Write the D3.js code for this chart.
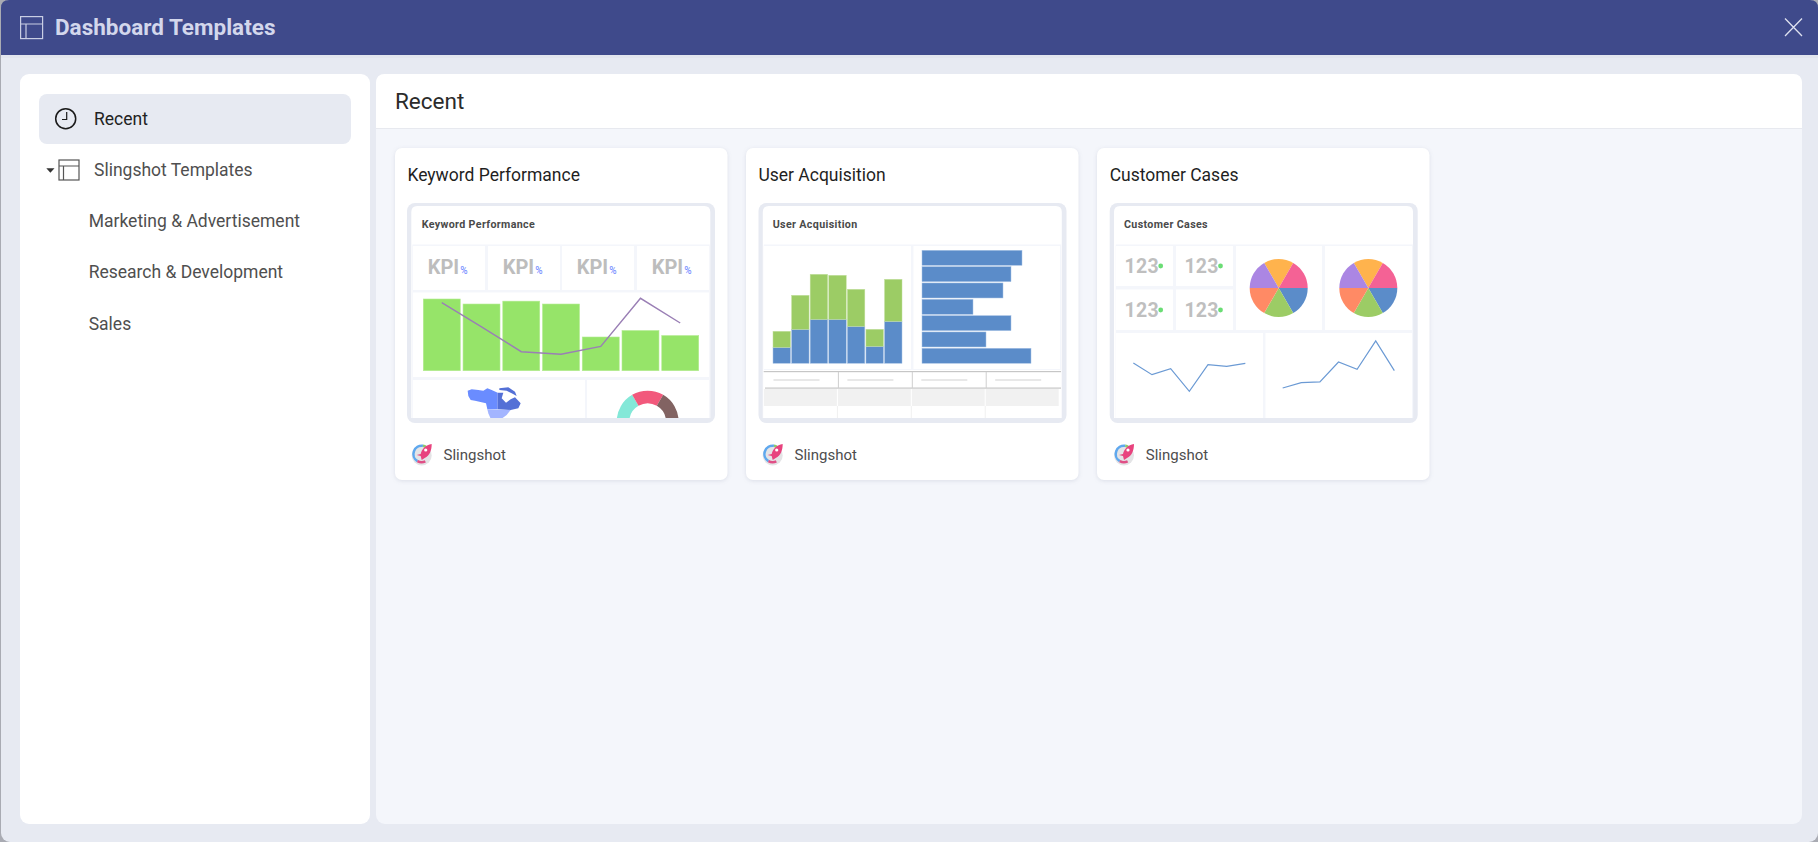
<!DOCTYPE html>
<html><head><meta charset="utf-8">
<script src="https://cdn.jsdelivr.net/npm/d3@7"></script>
<style>
html,body{margin:0;padding:0;background:#a9abb3;overflow:hidden}
svg{display:block;font-family:Roboto,sans-serif}
.card{filter:drop-shadow(0 1px 2px rgba(60,70,110,.13))}
</style></head><body>
<svg id="c" width="1818" height="842"></svg>
<script>
// ---- text
const windowTitle = "Dashboard Templates";
const panelTitle = "Recent";
const navItems = ["Recent","Slingshot Templates","Marketing & Advertisement","Research & Development","Sales"];
const cardTitles = ["Keyword Performance","User Acquisition","Customer Cases"];
const publisher = "Slingshot";
const kpiLabel = "KPI", kpiUnit = "%", numberLabel = "123";
// ---- Keyword Performance thumbnail
const monthIdx = ["1","2","3","4","5","6","7"];
const keywordBars = [100,93,97,93,47,56,49];
const keywordLine = [95,61,26.5,23,34,101,66.5];
const donutValues = [1,1,1];
// ---- User Acquisition thumbnail
const stackBlue  = [16,34,44,44,37,17,42];
const stackGreen = [16,34,45,44,37,17,42];
const hbarValues = [100,89,81,51,89,64,109];
const tableCols = ["a","b","c","d"];
// ---- Customer Cases thumbnail
const pieValues = [1,1,1,1,1,1];
const pieColors = ["#ffb34d","#f46295","#5b8cc9","#9ccc65","#ff8a65","#ab86e3"];
const lineA = [43.7,32,38,15.3,42,40.3,43.3];
const lineB = [18.7,24,24.7,44.7,37.3,65.7,36];

const svg = d3.select("#c");
const defs = svg.append("defs");
const rr = (g,x,y,w,h,r,f)=>g.append("rect").attr("x",x).attr("y",y).attr("width",w).attr("height",h).attr("rx",r).attr("fill",f);
const txt = (g,x,y,s,size,fill,weight=400)=>g.append("text").attr("x",x).attr("y",y).attr("font-size",size).attr("fill",fill).attr("font-weight",weight).text(s);
const rdTop=(x,y,w,h,r)=>`M${x},${y+h}V${y+r}Q${x},${y} ${x+r},${y}H${x+w-r}Q${x+w},${y} ${x+w},${y+r}V${y+h}Z`;

// window
rr(svg,1,0,1817,842,9,"#e7eaf2");
svg.append("path").attr("d",rdTop(1,0,1817,55,8)).attr("fill","#3f4a8b");
rr(svg,1,55,1817,3,0,"#e2e5ee");
const hi = svg.append("g").attr("fill","none").attr("stroke","#c9cee4").attr("stroke-width",1.2);
hi.append("rect").attr("x",20.6).attr("y",16.6).attr("width",22).attr("height",22);
hi.append("path").attr("d","M20.6,24H42.6M26,24V38.6");
txt(svg,55,35,windowTitle,22.5,"#d3d7ec",700);
svg.append("path").attr("d","M1785,18.5L1802,36M1802,18.5L1785,36").attr("stroke","#dfe2f0").attr("stroke-width",1.3).attr("fill","none");

// sidebar
rr(svg,20,74,350,750,9,"#ffffff");
rr(svg,39,94,312,50,8,"#e7eaf2");
const ck = svg.append("g");
ck.append("circle").attr("cx",65.7).attr("cy",118.7).attr("r",10).attr("fill","none").attr("stroke","#1a1a1a").attr("stroke-width",1.5);
ck.append("path").attr("d","M66.7,112V119.5H62").attr("fill","none").attr("stroke","#1a1a1a").attr("stroke-width",1.2);
const navPos = [[94,125,"#222"],[94,176,"#4f4f4f"],[88.7,227,"#4f4f4f"],[88.7,277.5,"#4f4f4f"],[88.7,330,"#4f4f4f"]];
navItems.forEach((t,i)=>txt(svg,navPos[i][0],navPos[i][1],t,17.5,navPos[i][2]));
svg.append("path").attr("d","M46.3,168.3H54.5L50.4,172.8Z").attr("fill","#333");
const si = svg.append("g").attr("fill","none").attr("stroke","#555").attr("stroke-width",1.2);
si.append("rect").attr("x",59).attr("y",160).attr("width",20).attr("height",20);
si.append("path").attr("d","M59,166H79M63.5,166V180");

// main panel
rr(svg,376,74,1426,750,9,"#f4f6fb");
svg.append("path").attr("d",rdTop(376,74,1426,54,9)).attr("fill","#fff");
svg.append("rect").attr("x",376).attr("y",128).attr("width",1426).attr("height",1).attr("fill","#e7e9ef");
txt(svg,395,109,panelTitle,22.5,"#2b2b2b",400);

// cards
const cardX=[395,746,1097];
const outerX=[407,758.5,1109.7];
const textX=[407.7,758.7,1110];
const gridX=[412.3,763.7,1115.7];
function logo(g,x,y){
  const a=d3.arc();
  g.append("circle").attr("cx",x).attr("cy",y+1.5).attr("r",10).attr("fill","#e4e4e6");
  g.append("path").attr("transform",`translate(${x},${y})`).attr("fill","#5fa8ee")
    .attr("d",a({innerRadius:7,outerRadius:9.5,startAngle:-2.6,endAngle:.15}));
  g.append("path").attr("transform",`translate(${x},${y})`).attr("fill","#8ccb6e")
    .attr("d",a({innerRadius:7,outerRadius:9.5,startAngle:.15,endAngle:.6}));
  g.append("path").attr("transform",`translate(${x},${y})`).attr("fill","#e04f86")
    .attr("d",a({innerRadius:7,outerRadius:9.5,startAngle:-3.6,endAngle:-2.6}));
  g.append("path").attr("fill","#e8437e")
    .attr("d",`M${x+10},${y-10}C${x+4},${y-9} ${x},${y-5} ${x-1},${y}L${x-5},${y+1}L${x-1},${y+2}L${x},${y+6}L${x+3},${y+4}C${x+8},${y+2} ${x+10},${y-4} ${x+10},${y-10}Z`);
  g.append("circle").attr("cx",x+4).attr("cy",y-4).attr("r",1.6).attr("fill","#fff");
}
const cards = svg.selectAll("g.card").data(cardTitles).join("g").attr("class","card");
cards.each(function(t,i){
  rr(d3.select(this),cardX[i],148,332.5,332,7,"#fff");
});
cardTitles.forEach((t,i)=>{
  const o=outerX[i], gx=gridX[i], tx=textX[i], g=svg.append("g");
  txt(g,tx-.3,181,t,17.5,"#1f1f1f");
  rr(g,o,203,308,220,8,"#e7eaf2");
  g.append("path").attr("d",rdTop(o+4.3,206,299,212,6)).attr("fill","#fff");
  txt(g,tx+14,228,t,10.7,"#4a4a4a",700).attr("letter-spacing",.35);
  rr(g,gx,244.5,297.5,173.5,0,"#f4f6fb");
  logo(g,tx+14,454);
  txt(g,tx+35.8,460,publisher,15,"#4d4d4d");
  defs.append("clipPath").attr("id","clip"+i).append("rect").attr("x",gx).attr("y",244.5).attr("width",297.5).attr("height",173.5);
});
const cell=(g,x0,y0,x1,y1)=>rr(g,x0,y0,x1-x0,y1-y0,0,"#fff");

// ---- thumbnail 1
{
  const g=svg.append("g").attr("clip-path","url(#clip0)");
  [[413,485],[488,560],[562,634],[637,709]].forEach(c=>{
    cell(g,c[0],246,c[1],290);
    const mid=(c[0]+c[1])/2;
    txt(g,mid-5.5,274,kpiLabel,20,"#bdbdbd",700).attr("text-anchor","middle");
    txt(g,mid+15,273.5,kpiUnit,10,"#7b93ff",500).attr("text-anchor","middle");
  });
  cell(g,413,292.5,709,377);
  cell(g,413,380,585,420);
  cell(g,587,380,709,420);
  const x=d3.scaleBand().domain(monthIdx).range([423.3,698.7]).paddingInner(.07);
  const y=d3.scaleLinear().domain([0,100]).range([370.7,299]);
  g.selectAll("rect.b").data(keywordBars).join("rect").attr("class","b")
    .attr("x",(d,i)=>x(monthIdx[i])).attr("width",x.bandwidth()).attr("y",d=>y(d)).attr("height",d=>y(0)-y(d))
    .attr("fill","#96e469").attr("stroke","#b4eb92").attr("stroke-width",.6);
  const l=d3.line().x((d,i)=>x(monthIdx[i])+x.bandwidth()/2).y(d=>y(d));
  g.append("path").datum(keywordLine).attr("d",l).attr("fill","none").attr("stroke","#9a7fb5").attr("stroke-width",1.4);
  // map icon
  const m=(p)=>p.map(q=>[400+q[0]/3,370+q[1]/3]);
  const poly=d3.curveCatmullRomClosed.alpha(.5);
  const line=d3.line().curve(d3.curveLinearClosed);
  const mapParts=[
   ["#6a8cff",[[203,62],[215,58],[235,60],[250,62],[262,55],[275,60],[293,68],[293,118],[262,118],[258,100],[225,92],[212,90],[205,78]]],
   ["#5470d6",[[293,68],[310,68],[305,85],[318,98],[332,88],[345,82],[362,100],[355,115],[332,120],[293,118]]],
   ["#5470d6",[[298,55],[325,52],[345,65],[350,78],[335,70],[320,62],[298,60]]],
   ["#a3b5ff",[[262,118],[332,120],[320,135],[305,146],[272,146],[265,130]]]
  ];
  mapParts.forEach(p=>g.append("path").attr("d",line(m(p[1]))).attr("fill",p[0]));
  // donut
  const pie=d3.pie().sort(null).startAngle(-Math.PI/2).endAngle(Math.PI/2);
  const arc=d3.arc().innerRadius(18.3).outerRadius(31);
  const dc=["#84e8d8","#f2597c","#826362"];
  g.append("g").attr("transform",`translate(${390+773/3},${140+845/3})`).selectAll("path").data(pie(donutValues)).join("path").attr("d",arc).attr("fill",(d,i)=>dc[i]);
}
// ---- thumbnail 2
{
  const g=svg.append("g").attr("clip-path","url(#clip1)");
  cell(g,764,246,911,369); cell(g,913.5,246,1060,369);
  const cats=monthIdx;
  const x=d3.scaleBand().domain(cats).range([773,902]).paddingInner(.06);
  const y=d3.scaleLinear().domain([0,100]).range([363.3,263.3]);
  const stack=d3.stack().keys(["b","g"])(stackBlue.map((b,i)=>({b,g:stackGreen[i]})));
  const sc=["#5b8cc9","#9ccc65"];
  stack.forEach((s,k)=>g.selectAll("rect.s"+k).data(s).join("rect").attr("class","s"+k)
    .attr("x",(d,i)=>x(cats[i])).attr("width",x.bandwidth()).attr("y",d=>y(d[1])).attr("height",d=>y(d[0])-y(d[1]))
    .attr("fill",sc[k]).attr("stroke",k?"#c3e09f":"#a9c4e6").attr("stroke-width",.5));
  const yb=d3.scaleBand().domain(cats).range([250.3,363.3]).paddingInner(.08);
  const xb=d3.scaleLinear().domain([0,100]).range([922,1022]);
  g.selectAll("rect.h").data(hbarValues).join("rect").attr("class","h")
    .attr("x",xb(0)).attr("width",d=>xb(d)-xb(0)).attr("y",(d,i)=>yb(cats[i])).attr("height",yb.bandwidth())
    .attr("fill","#5b8cc9").attr("stroke","#a9c4e6").attr("stroke-width",.5);
  // table
  const colX=d3.scaleBand().domain(tableCols).range([763,1058.6]);
  rr(g,763,370,298,50,0,"#fff");
  rr(g,763,371,298,1.2,0,"#c6c6c6");
  rr(g,765,387.5,296,1.2,0,"#c6c6c6");
  rr(g,763.7,389,295,17,0,"#f1f1f1");
  tableCols.forEach((c,i)=>{
    const x0=colX(c);
    rr(g,x0+10.5,379,46,2,0,"#e8e8e8");
    if(i>0){
      rr(g,x0+1,372,1,16,0,"#cfcfcf");
      rr(g,x0,389,1,17,0,"#fff");
      rr(g,x0,406,1,14,0,"#f0f0f0");
    }
  });
}
// ---- thumbnail 3
{
  const g=svg.append("g").attr("clip-path","url(#clip2)");
  cell(g,1116,246,1173,286); cell(g,1176,246,1233,286);
  cell(g,1116,289.5,1173,330); cell(g,1176,289.5,1233,330);
  cell(g,1236,246,1322,330); cell(g,1325,246,1412,330);
  cell(g,1116,333,1263,420); cell(g,1265.5,333,1412,420);
  [[1141.7,272.7],[1201.5,272.7],[1141.7,316.7],[1201.5,316.7]].forEach(p=>{
    txt(g,p[0],p[1],numberLabel,19.5,"#bfbfbf",700).attr("text-anchor","middle").attr("letter-spacing",.2);
    g.append("circle").attr("cx",p[0]+19).attr("cy",p[1]-6.7).attr("r",2.4).attr("fill","#6bdd75");
  });
  const pie=d3.pie().sort(null).startAngle(-Math.PI/6).endAngle(2*Math.PI-Math.PI/6);
  const arc=d3.arc().innerRadius(0).outerRadius(29);
  [1278.7,1368.3].forEach(cx=>{
    g.append("g").attr("transform",`translate(${cx},${140+444/3})`).selectAll("path").data(pie(pieValues)).join("path").attr("d",arc).attr("fill",(d,i)=>pieColors[i]);
  });
  const yl=d3.scaleLinear().domain([0,100]).range([140+800/3,140+800/3-100]);
  const xa=d3.scalePoint().domain(monthIdx).range([1090+130/3,1090+466/3]);
  const xc=d3.scalePoint().domain(monthIdx).range([1090+578/3,1090+913/3]);
  const la=d3.line().x((d,i)=>xa(monthIdx[i])).y(d=>yl(d));
  const lc=d3.line().x((d,i)=>xc(monthIdx[i])).y(d=>yl(d));
  g.append("path").attr("d",la(lineA)).attr("fill","none").attr("stroke","#6b9ad4").attr("stroke-width",1.2);
  g.append("path").attr("d",lc(lineB)).attr("fill","none").attr("stroke","#6b9ad4").attr("stroke-width",1.2);
}
</script>
</body></html>
